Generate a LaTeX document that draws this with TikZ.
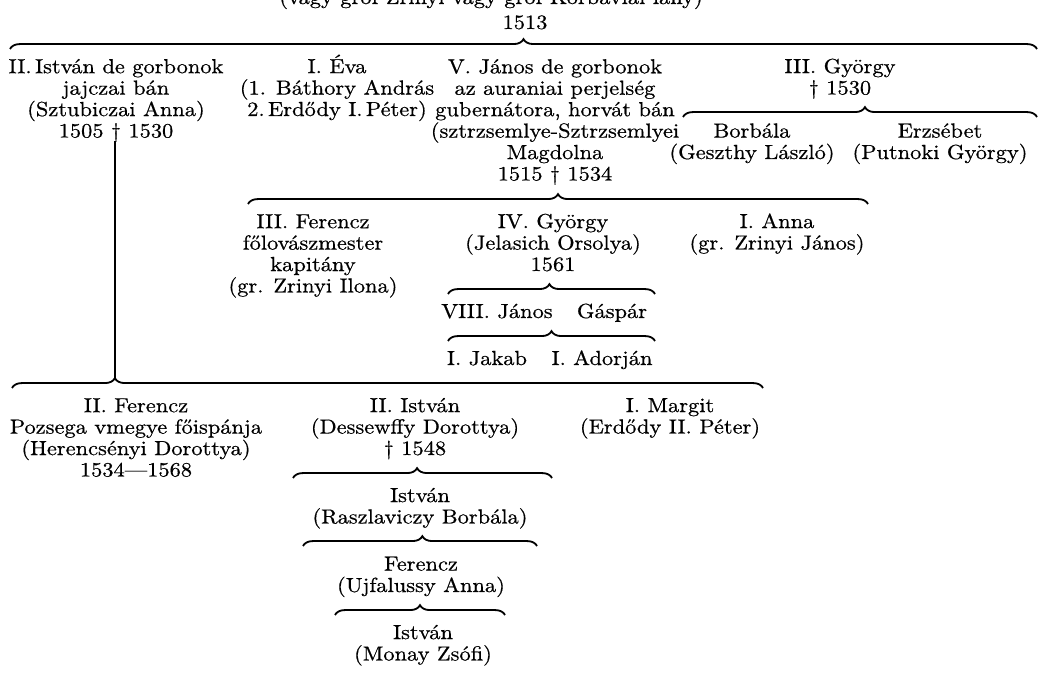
\documentclass[tikz,border=0pt]{standalone}
\usepackage{fontspec}
\setmainfont{lmroman10-regular}[Extension=.otf, FakeStretch=1.1, FakeBold=0.6]
\usetikzlibrary{positioning, decorations.pathreplacing}

\newcommand{\famfont}{\fontsize{14.5}{15.24}\selectfont}

\begin{document}
\begin{tikzpicture}[x=0.025cm, y=-0.025cm,
    every node/.style={align=center, inner sep=0pt, anchor=base, font=\famfont},
    kin/.style={decorate, decoration={brace, amplitude=7pt, aspect=#1}, line width=1.3pt},
    kin/.default=0.5
    ]
    \useasboundingbox (0,0) rectangle (1042,675);
    \clip (0,0) rectangle (1042,675);

    % parents (base = last line)
    \node (top) at (491,4) {(vagy gróf Zrínyi vagy gróf Korbáviai lány)};
    \node (yr) at (525,29) {1513};
    \coordinate (b0l) at (10,49);
    \coordinate (b0r) at (1037,49);
    \draw[kin] (b0l) -- (b0r);

    % first generation
    \node (istvanII) at (116,137.5) {II.\,István de gorbonok\\jajczai bán\\(Sztubiczai Anna)\\1505 \dag\ 1530};
    \node (eva) at (337,116) {I. Éva\\(1. Báthory András\\2.\,Erdődy I.\,Péter)};
    \node (janosV) at (555,180.5) {V. János de gorbonok\\az auraniai perjelség\\gubernátora, horvát bán\\(sztrzsemlye-Sztrzsemlyei\\Magdolna\\1515 \dag\ 1534};
    \node (gyorgyIII) at (840,94.5) {III. György\\\dag\ 1530};
    \coordinate (b1l) at (683,117);
    \coordinate (b1r) at (1037,117);
    \draw[kin=0.514] (b1l) -- (b1r);
    \node (borbala) at (752,159) {Borbála\\(Geszthy László)};
    \node (erzsebet) at (940,159) {Erzsébet\\(Putnoki György)};

    % children of V. János
    \coordinate (b2l) at (248,204);
    \coordinate (b2r) at (868,204);
    \draw[kin] (b2l) -- (b2r);
    \node (ferenczIII) at (313,292.5) {III. Ferencz\\főlovászmester\\kapitány\\(gr. Zrinyi Ilona)};
    \node (gyorgyIV) at (553,271) {IV. György\\(Jelasich Orsolya)\\1561};
    \node (annaI) at (777,249.5) {I. Anna\\(gr. Zrinyi János)};

    \coordinate (b3l) at (448,294);
    \coordinate (b3r) at (655,294);
    \draw[kin=0.49] (b3l) -- (b3r);
    \node (janosVIII) at (497,318) {VIII. János};
    \node (gaspar) at (612,318) {Gáspár};

    \coordinate (b4l) at (448,341);
    \coordinate (b4r) at (655,341);
    \draw[kin=0.5] (b4l) -- (b4r);
    \node (jakab) at (487,365) {I. Jakab};
    \node (adorjan) at (602,365) {I. Adorján};

    % children of II. István
    \coordinate (dagA) at (115,141);
    \coordinate (tipB) at (115,378);
    \draw[line width=0.9pt] (dagA) -- (tipB);
    \coordinate (b5l) at (12,388);
    \coordinate (b5r) at (763,388);
    \draw[kin=0.137] (b5l) -- (b5r);
    \node (ferenczII) at (136,476.5) {II. Ferencz\\Pozsega vmegye főispánja\\(Herencsényi Dorottya)\\1534---1568};
    \node (istvanIIb) at (415,455) {II. István\\(Dessewffy Dorottya)\\\dag\ 1548};
    \node (margit) at (670,433.5) {I. Margit\\(Erdődy II. Péter)};

    \coordinate (b6l) at (293,478);
    \coordinate (b6r) at (552,478);
    \draw[kin=0.479] (b6l) -- (b6r);
    \node (istvanR) at (420,523.5) {István\\(Raszlaviczy Borbála)};

    \coordinate (b7l) at (303,546);
    \coordinate (b7r) at (537,546);
    \draw[kin=0.51] (b7l) -- (b7r);
    \node (ferenczU) at (421,592) {Ferencz\\(Ujfalussy Anna)};

    \coordinate (b8l) at (335,615);
    \coordinate (b8r) at (505,615);
    \draw[kin] (b8l) -- (b8r);
    \node (istvanM) at (423,660.5) {István\\(Monay Zsófi)};
\end{tikzpicture}
\end{document}
